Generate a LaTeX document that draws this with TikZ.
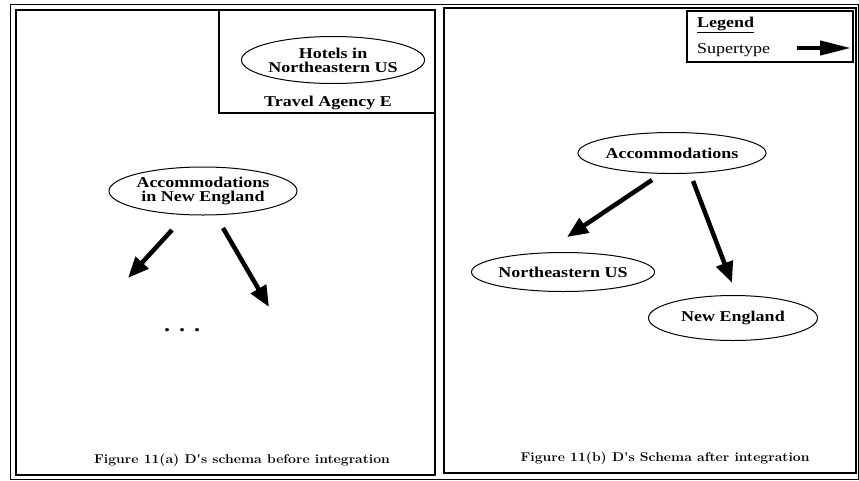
\documentclass[tikz,border=0pt]{standalone}
\usepackage{fontspec}
\newfontfamily\tms[FakeStretch=1.2]{Liberation Serif}
\newfontfamily\capfnt[FakeStretch=1.1]{Latin Modern Roman}
\usetikzlibrary{shapes.geometric,arrows.meta}
\tikzset{
  frame/.style={draw=black, line width=1.1pt},
  ell/.style={draw, ellipse, line width=1pt, inner sep=0pt, align=center,
    font=\tms\bfseries\fontsize{15}{14}\selectfont},
  lbl/.style={font=\tms\bfseries\fontsize{15}{14}\selectfont, inner sep=0pt},
  figcaption/.style={font=\capfnt\bfseries\fontsize{12.7}{14}\selectfont, inner sep=0pt},
  superarrow/.style={line width=4.5pt, -{Triangle[length=21pt,width=17pt]}},
}
\begin{document}
\begin{tikzpicture}[x=1pt,y=-1pt]
\useasboundingbox (0,0) rectangle (859,480);
% frames
\draw[line width=0.7pt] (10,4) rectangle (858,479);
\draw[frame] (16,10) rectangle (435,475);
\draw[frame] (444,8) rectangle (856,473);
\draw[frame] (219,10) rectangle (435,113);
\draw[frame] (687,11) rectangle (853,62);
% left panel
\node[ell, minimum width=165pt, minimum height=47pt] (hotels) at (333,60) {Hotels in\\Northeastern US};
\node[lbl] (agency) at (328,103) {Travel Agency E};
\node[ell, minimum width=167pt, minimum height=48pt] (accne) at (203,191) {Accommodations\\in New England};
\coordinate (a1s) at (172,230);
\coordinate (a1e) at (128,278);
\coordinate (a2s) at (223,228);
\coordinate (a2e) at (269,307);
\draw[superarrow] (a1s) -- (a1e);
\draw[superarrow] (a2s) -- (a2e);
\node[lbl, font=\tms\bfseries\fontsize{20}{20}\selectfont] (dots) at (182,330) {.\hspace{9pt}.\hspace{9pt}.};
\node[figcaption] (capa) at (242,460) {Figure 11(a) D's schema before integration};
% right panel
\node[lbl, anchor=west] (legend) at (697,25) {\underline{Legend}};
\node[anchor=west, inner sep=0pt, font=\tms\fontsize{15}{14}\selectfont] (super) at (697,50) {Supertype};
\coordinate (ls) at (797,48);
\coordinate (le) at (851,48);
\draw[line width=4pt, -{Triangle[length=31pt,width=14pt]}] (ls) -- (le);
\node[ell, minimum width=157pt, minimum height=41pt] (acc) at (672,153) {Accommodations};
\node[ell, minimum width=167pt, minimum height=39pt] (neus) at (563,272) {Northeastern US};
\node[ell, minimum width=169pt, minimum height=45pt] (neng) at (733,318) {New England};
\coordinate (b1s) at (652,180);
\coordinate (b1e) at (567,237);
\coordinate (b2s) at (693,181);
\coordinate (b2e) at (732,283);
\draw[superarrow] (b1s) -- (b1e);
\draw[superarrow] (b2s) -- (b2e);
\node[figcaption] (capb) at (665,458) {Figure 11(b) D's Schema after integration};
\end{tikzpicture}
\end{document}
